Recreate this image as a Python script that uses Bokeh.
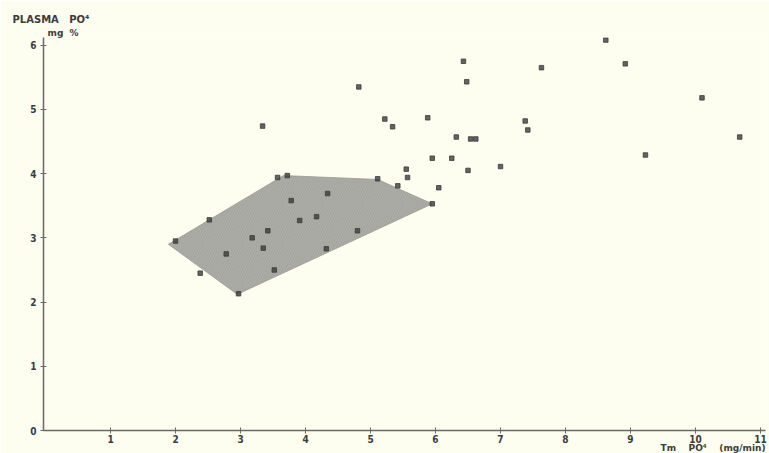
from bokeh.plotting import figure
from bokeh.models import Range1d, FixedTicker, Title
from bokeh.embed import file_html
from bokeh.resources import INLINE

# scatter data: Tm PO4 (mg/min) vs plasma PO4 (mg %)
tm_po4 = [2.00, 2.52, 2.78, 2.38, 2.97, 3.18, 3.42, 3.35, 3.52, 3.57, 3.72, 3.78,
          3.91, 4.17, 4.34, 4.32, 4.80, 5.11, 5.42, 5.55, 5.57, 5.95, 6.05,
          4.82, 6.43, 6.48, 7.63, 8.62, 8.92, 10.10, 10.68, 9.23,
          5.22, 5.34, 5.88, 7.38, 7.42, 6.32, 6.54, 6.62,
          5.95, 6.25, 6.50, 7.00, 3.34]
plasma_po4 = [2.95, 3.28, 2.75, 2.45, 2.13, 3.00, 3.11, 2.84, 2.50, 3.94, 3.97, 3.58,
              3.27, 3.33, 3.69, 2.83, 3.11, 3.92, 3.81, 4.07, 3.94, 3.53, 3.78,
              5.35, 5.75, 5.43, 5.65, 6.08, 5.71, 5.18, 4.57, 4.29,
              4.85, 4.73, 4.87, 4.82, 4.68, 4.57, 4.54, 4.54,
              4.24, 4.24, 4.05, 4.11, 4.74]

# shaded normal range polygon
region_x = [1.89, 3.66, 5.11, 5.95, 2.95]
region_y = [2.90, 3.97, 3.91, 3.53, 2.12]

x_ticks = [1, 2, 3, 4, 5, 6, 7, 8, 9, 10, 11]
y_ticks = [0, 1, 2, 3, 4, 5, 6]

BG = "#fdfdf0"
INK = "#3c3c3c"
FONT = "DejaVu Sans"
TICK_FONT = "DejaVu Sans Condensed"
NB = "\u00a0"

p = figure(width=769, height=453, output_backend="svg", toolbar_location=None,
           x_range=Range1d(-0.031, 11.077), y_range=Range1d(0, 6.12),
           min_border_left=43, min_border_right=4, min_border_top=37,
           min_border_bottom=23, background_fill_color=BG,
           border_fill_color=BG, outline_line_color=None)

p.xgrid.visible = False
p.ygrid.visible = False

p.patch(region_x, region_y, fill_color="#acada6", line_color="#9c9c96",
        line_width=0.8, hatch_pattern="/", hatch_color="#8e8e88",
        hatch_alpha=0.4, hatch_scale=5, hatch_weight=0.8)

p.scatter(tm_po4, plasma_po4, marker="square", size=4.5,
          fill_color=INK, line_color=INK, alpha=0.8)

for ax in (p.xaxis[0], p.yaxis[0]):
    ax.axis_line_color = "#6a6a66"
    ax.axis_line_width = 1.5
    ax.major_tick_line_color = "#6a6a66"
    ax.major_tick_in = 3
    ax.major_tick_out = 3
    ax.minor_tick_line_color = None
    ax.major_label_text_font = TICK_FONT
    ax.major_label_text_font_size = "10px"
    ax.major_label_text_font_style = "bold"
    ax.major_label_text_color = INK

p.xaxis.major_label_standoff = 1
p.yaxis.major_label_standoff = 4

p.xaxis.ticker = FixedTicker(ticks=x_ticks)
p.yaxis.ticker = FixedTicker(ticks=y_ticks)

# y-axis caption (two lines, top-left)
p.add_layout(Title(text="mg" + NB * 2 + "%", align="left", offset=4, standoff=0,
                   text_font=FONT, text_font_size="9px",
                   text_font_style="bold", text_color=INK), "above")
p.add_layout(Title(text="PLASMA" + NB * 3 + "PO⁴", align="left", offset=-31,
                   standoff=2, text_font=FONT, text_font_size="10px",
                   text_font_style="bold", text_color=INK), "above")
# x-axis caption (bottom-right)
p.add_layout(Title(text="Tm" + NB * 4 + "PO⁴" + NB * 4 + "(mg/min)",
                   align="right", offset=0, standoff=-9, text_font=FONT,
                   text_font_size="9px", text_font_style="bold",
                   text_color=INK), "below")

open("out.html", "w").write(file_html(p, INLINE))
